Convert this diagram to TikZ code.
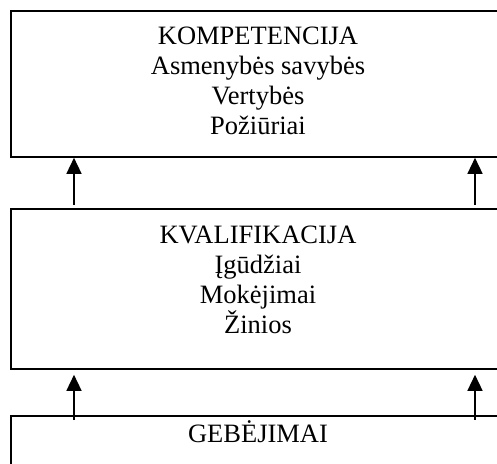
\documentclass[tikz,border=0pt]{standalone}
\usepackage{fontspec}
\setmainfont{Liberation Serif}
\usetikzlibrary{arrows.meta}
\begin{document}
\begin{tikzpicture}[x=1pt,y=1pt,
  levelbox/.style={draw, line width=1.8pt, rectangle, inner sep=0pt,
    anchor=north west, minimum width=500pt},
  line/.style={anchor=base, inner sep=0pt, font=\fontsize{26.5}{30}\selectfont},
  uparrow/.style={line width=1.4pt, -{Triangle[width=15pt,length=16pt]}}]
  \useasboundingbox (0,0) rectangle (497,463);
  \clip (0,0) rectangle (497,463);
  \fill[white] (0,0) rectangle (497,463);

  % three stacked levels
  \node[levelbox, minimum height=146pt] (top) at (10,453) {};
  \node[levelbox, minimum height=160pt] (mid) at (10,255) {};
  \node[levelbox, minimum height=60pt]  (bot) at (10,48)  {};

  % upper level
  \node[line] (t1) at (258,418) {KOMPETENCIJA};
  \node[line] (t2) at (258,388) {Asmenybės savybės};
  \node[line] (t3) at (258,358) {Vertybės};
  \node[line] (t4) at (258,328) {Požiūriai};

  % middle level
  \node[line] (m1) at (258,219) {KVALIFIKACIJA};
  \node[line] (m2) at (258,189) {Įgūdžiai};
  \node[line] (m3) at (258,159) {Mokėjimai};
  \node[line] (m4) at (258,129) {Žinios};

  % lower level
  \node[line] (b1) at (258,21) {GEBĖJIMAI};

  % connectors between levels
  \draw[uparrow] ([xshift=64pt,yshift=3pt]mid.north west) -- ([xshift=64pt]top.south west);
  \draw[uparrow] ([xshift=465pt,yshift=3pt]mid.north west) -- ([xshift=465pt]top.south west);
  \draw[uparrow] ([xshift=64pt,yshift=-5pt]bot.north west) -- ([xshift=64pt,yshift=-5pt]mid.south west);
  \draw[uparrow] ([xshift=465pt,yshift=-5pt]bot.north west) -- ([xshift=465pt,yshift=-5pt]mid.south west);
\end{tikzpicture}
\end{document}
